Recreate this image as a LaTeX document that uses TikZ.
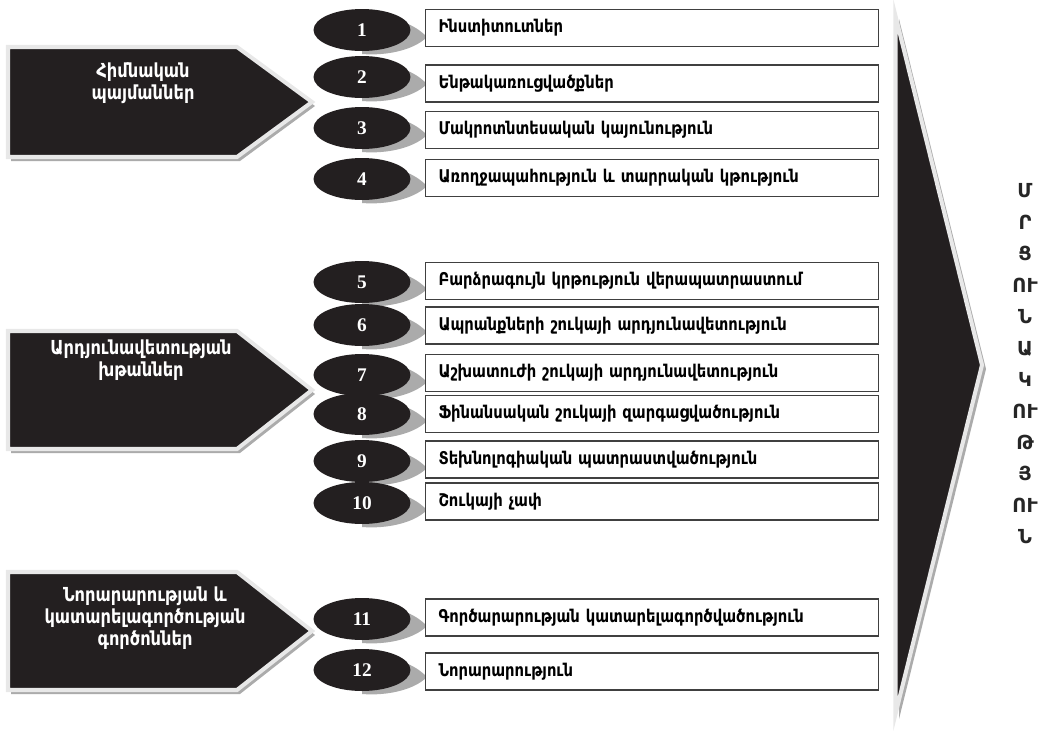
\documentclass[tikz,border=0pt]{standalone}
\usepackage{fontspec}
\usepackage{xcolor}
\usepackage{tikz}
\usetikzlibrary{shapes.geometric}
\setmainfont{Liberation Serif}
\newfontfamily\armfont{DejaVu Sans}[FakeStretch=0.84]
\newfontfamily\grpfont{DejaVu Sans}[FakeStretch=0.84]
\newfontfamily\wordfont{DejaVu Sans}
\definecolor{DarkFill}{HTML}{231F20}
\definecolor{FrameGray}{HTML}{E8E8E8}
\definecolor{ShadowGray}{HTML}{ABABAB}

\tikzset{
  numblob/.style={ellipse, fill=DarkFill, minimum width=1.94cm, minimum height=0.84cm,
    inner sep=0pt, text=white, font=\bfseries\fontsize{11}{12}\selectfont},
  itembox/.style={draw=black!75, line width=0.6pt, fill=white, anchor=west,
    minimum height=0.74cm, text width=8.54cm, inner xsep=0.26cm, inner ysep=0pt,
    align=left, font=\armfont\bfseries\fontsize{10}{11}\selectfont},
  tailshadow/.style={fill=ShadowGray},
  pentashape/.style={fill=DarkFill, draw=FrameGray, line width=2.3pt, line join=miter},
  pentashadow/.style={fill=ShadowGray},
  grouplabel/.style={text=white, align=center, font=\grpfont\bfseries\fontsize{11}{12.5}\selectfont},
  wordlabel/.style={text=black!85, align=center, inner sep=0pt,
    font=\wordfont\bfseries\fontsize{11}{17.9}\selectfont}
}

\begin{document}
\begin{tikzpicture}[x=0.02cm, y=-0.02cm]
    \useasboundingbox (0,0) rectangle (1059,731);

    % Drawing the three group arrows on the left
    \fill[pentashadow] (11,51) -- (240,51) -- (315,106) -- (240,161) -- (11,161) -- cycle;
    \filldraw[pentashape] (8,47) -- (237,47) -- (312,102) -- (237,157) -- (8,157) -- cycle;
    \fill[pentashadow] (11,335) -- (240,335) -- (315,394) -- (240,453) -- (11,453) -- cycle;
    \filldraw[pentashape] (8,331) -- (237,331) -- (312,390) -- (237,449) -- (8,449) -- cycle;
    \fill[pentashadow] (11,576) -- (240,576) -- (315,635) -- (240,694) -- (11,694) -- cycle;
    \filldraw[pentashape] (8,572) -- (237,572) -- (312,631) -- (237,690) -- (8,690) -- cycle;

    \node[grouplabel] (basic) at (143,83) {Հիմնական\\պայմաններ};
    \node[grouplabel] (efficiency) at (141,360) {Արդյունավետության\\խթաններ};
    \node[grouplabel] (innovation) at (145,618) {Նորարարության և\\կատարելագործության\\գործոններ};

    % Drawing the big arrow on the right
    \fill[pentashadow] (899,19) -- (986,369) -- (899,719) -- cycle;
    \filldraw[pentashape] (895.5,16) -- (982,365) -- (895.5,714) -- cycle;
    \node[wordlabel] (word) at (1025,364) {Մ\\Ր\\Ց\\ՈՒ\\Ն\\Ա\\Կ\\ՈՒ\\Թ\\Յ\\ՈՒ\\Ն};

    % Numbered ellipses with their shadows
    \foreach \k/\y in {1/30, 2/77, 3/128, 4/179, 5/282, 6/325, 7/375, 8/414,
                       9/461, 10/503, 11/619, 12/670} {
        \fill[tailshadow, shift={(362,\y)}] (0,-14) .. controls (40,-14) and (56,-2) .. (65,7)
            .. controls (52,20) and (25,26) .. (0,24) -- cycle;
        \node[numblob] (n\k) at (362,\y) {\k};
    }

    % Factor boxes
    \node[itembox] (b1) at (425,28) {Ինստիտուտներ};
    \node[itembox] (b2) at (425,83.5) {Ենթակառուցվածքներ};
    \node[itembox] (b3) at (425,130) {Մակրոտնտեսական կայունություն};
    \node[itembox] (b4) at (425,178) {Առողջապահություն և տարրական կթություն};
    \node[itembox] (b5) at (425,281) {Բարձրագույն կրթություն վերապատրաստում};
    \node[itembox] (b6) at (425,325.5) {Ապրանքների շուկայի արդյունավետություն};
    \node[itembox] (b7) at (425,373) {Աշխատուժի շուկայի արդյունավետություն};
    \node[itembox] (b8) at (425,414) {Ֆինանսական շուկայի զարգացվածություն};
    \node[itembox] (b9) at (425,459.5) {Տեխնոլոգիական պատրաստվածություն};
    \node[itembox] (b10) at (425,501.5) {Շուկայի չափ};
    \node[itembox] (b11) at (425,617.5) {Գործարարության կատարելագործվածություն};
    \node[itembox] (b12) at (425,671.5) {Նորարարություն};
\end{tikzpicture}
\end{document}
